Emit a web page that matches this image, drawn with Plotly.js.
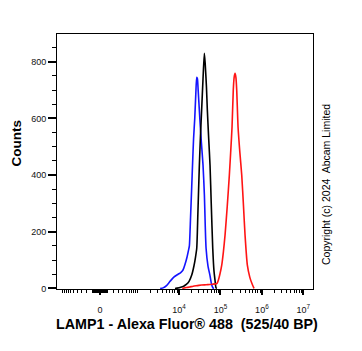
<!DOCTYPE html>
<html>
<head>
<meta charset="utf-8">
<script src="https://cdn.plot.ly/plotly-3.0.1.min.js"></script>
<style>
html,body{margin:0;padding:0;background:#fff;}
#chart{width:362px;height:351px;}
</style>
</head>
<body>
<div id="chart"></div>
<script>
// Fluorescence intensity (LAMP1 - Alexa Fluor 488) and event counts
const blueX = [3500,4120,5000,6080,7500,9500,11000,12500,14000,15600,17000,17800,19000,20300,21200,22500,24000,25500,26800,27800,29000,31800,34500,38000,41000,43000,45000,50000,56000,61000,66000,70000];
const blueY = [0,2,10,25,40,50,56,65,85,110,135,150,250,360,435,530,600,690,745,740,700,600,520,435,330,220,142,80,45,15,2,0];

const blackX = [8000,9000,11000,13000,15000,17500,20300,23000,25000,26800,28500,31000,33000,35200,38000,40900,43000,46000,48300,52000,56100,60000,65200,70000,74000,78300,82000];
const blackY = [0,1,4,8,14,25,47,80,110,142,260,435,540,630,740,830,790,710,630,530,435,300,142,60,29,2,0];

const redX = [12000,15000,18000,22000,28000,35000,45000,55000,65000,75000,82800,89000,97000,107500,118000,129100,146000,164000,178000,190500,204000,214000,225000,236000,247000,266000,294000,326500,360000,392400,445700,510000,569500,646600];
const redY = [0,3,5,8,10,12,13,14,15,16,18,29,50,82,130,188,290,400,490,570,700,745,759,745,700,570,480,400,290,188,82,40,19,0];

const majorTickValues = [0, 1e4, 1e5, 1e6, 1e7];
const majorTickLabels = ['0', '10<sup>4</sup>', '10<sup>5</sup>', '10<sup>6</sup>', '10<sup>7</sup>'];

// biexponential-like display transform (arcsinh)
const C = 249;
function T(v){ return Math.asinh(v / C); }

const minorVals = [];
[1e1,1e2,1e3,1e4,1e5,1e6].forEach(d => { for (let m = 1; m <= 9; m++) { const v = m*d; if (v>=1e1 && !majorTickValues.includes(v)) minorVals.push(T(v)); } });
[1e1,1e2].forEach(d => { for (let m = 1; m <= 9; m++) minorVals.push(T(-m*d)); });
minorVals.push(T(-1000));

function mk(xs, ys, color){
  return {x: xs.map(T), y: ys, type:'scatter', mode:'lines',
    line:{color:color, width:1.6, shape:'spline', smoothing:0.6}, hoverinfo:'skip', showlegend:false};
}

const data = [mk(blueX, blueY, 'rgb(20,20,255)'), mk(blackX, blackY, 'rgb(0,0,0)'), mk(redX, redY, 'rgb(255,20,20)')];

const fontFam = 'Liberation Sans, Arial, sans-serif';
const layout = {
  width: 362, height: 351,
  margin: {l:57, r:49, t:34, b:62},
  paper_bgcolor:'#fff', plot_bgcolor:'#fff',
  showlegend:false,
  xaxis: {
    range:[-2.39, 11.83], showgrid:false, zeroline:false,
    showline:true, linecolor:'#000', linewidth:1, mirror:true,
    tickmode:'array', tickvals: majorTickValues.map(T), ticktext: majorTickLabels,
    ticks:'outside', ticklen:5, tickwidth:2, tickcolor:'#000',
    ticklabelstandoff: 7,
    tickfont:{family:fontFam, size:9, color:'#111'},
    minor:{tickmode:'array', tickvals:minorVals, ticks:'outside', ticklen:3, tickwidth:1, tickcolor:'#000', showgrid:false}
  },
  yaxis: {
    range:[-2, 898], showgrid:false, zeroline:false,
    showline:true, linecolor:'#000', linewidth:1, mirror:true,
    tickmode:'array', tickvals:[0,200,400,600,800],
    ticks:'outside', ticklen:8, tickwidth:2, tickcolor:'#000',
    tickfont:{family:fontFam, size:9, color:'#111'},
    minor:{dtick:50, ticks:'outside', ticklen:4, tickwidth:1, tickcolor:'#000', showgrid:false}
  },
  annotations: [
    {text:'<b>Counts</b>', xref:'paper', yref:'paper', x:(15.5-57)/256, y:(289-143)/255,
     xanchor:'center', yanchor:'middle', textangle:-90, showarrow:false,
     font:{family:fontFam, size:13.5, color:'#000'}},
    {text:'<b>LAMP1 - Alexa Fluor® 488  (525/40 BP)</b>', xref:'paper', yref:'paper', x:(186.5-57)/256, y:(289-324)/255,
     xanchor:'center', yanchor:'middle', showarrow:false,
     font:{family:fontFam, size:14.3, color:'#000'}},
    {text:'Copyright (c) 2024  Abcam Limited', xref:'paper', yref:'paper', x:(326-57)/256, y:(289-185)/255,
     xanchor:'center', yanchor:'middle', textangle:-90, showarrow:false,
     font:{family:fontFam, size:10.5, color:'#000'}}
  ]
};

Plotly.newPlot('chart', data, layout, {displayModeBar:false, staticPlot:true});
</script>
</body>
</html>
